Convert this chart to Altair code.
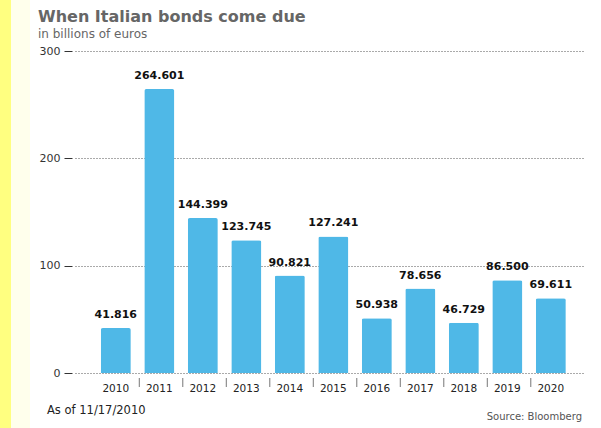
import altair as alt
import pandas as pd

# Italian bond redemptions by year, billions of euros
years = ["2010", "2011", "2012", "2013", "2014", "2015",
         "2016", "2017", "2018", "2019", "2020"]
amounts = [41.816, 264.601, 144.399, 123.745, 90.821, 127.241,
           50.938, 78.656, 46.729, 86.500, 69.611]
y_ticks = [0, 100, 200, 300]

W, H = 508, 322
BAR = "#4FB8E7"
FONT = "DejaVu Sans"

df = pd.DataFrame({"year": years, "amount": amounts})
df["label"] = [f"{v:.3f}" for v in amounts]

x_enc = alt.X(
    "year:N",
    sort=years,
    scale=alt.Scale(paddingInner=0.31, paddingOuter=0.494, align=0.6),
    axis=alt.Axis(
        title=None, ticks=False, domain=False, grid=False,
        labelAngle=0, labelFont=FONT, labelFontSize=10.5,
        labelColor="#222", labelPadding=10,
    ),
)
y_enc = alt.Y(
    "amount:Q",
    scale=alt.Scale(domain=[0, 300], nice=False),
    axis=alt.Axis(
        title=None, values=y_ticks, domain=False,
        tickSize=8, tickColor="#333", tickWidth=1, offset=3,
        labelPadding=4, labelFont=FONT, labelFontSize=11,
        labelColor="#333",
        grid=True, gridColor="#555", gridDash=[1, 2], gridWidth=1,
    ),
)

base = alt.Chart(df)

bars = base.mark_bar(
    color=BAR, cornerRadiusTopLeft=2, cornerRadiusTopRight=2
).encode(x=x_enc, y=y_enc)

values = base.mark_text(
    font=FONT, fontWeight="bold", fontSize=11, color="#111",
    baseline="alphabetic", dy=-10,
).encode(x=alt.X("year:N", sort=years), y="amount:Q", text="label:N")

# short separators between the year labels
seps = alt.Chart(df[df["year"] != years[0]]).mark_rule(
    color="#777", strokeWidth=1, xOffset=-5
).encode(
    x=alt.X("year:N", sort=years, bandPosition=0),
    y=alt.value(H + 5),
    y2=alt.value(H + 14),
)

# yellow edge band on the left of the page
stripe = alt.Chart(pd.DataFrame({"k": [0]})).mark_rect(color="#FFFF80").encode(
    x=alt.value(-75), x2=alt.value(-64), y=alt.value(-51), y2=alt.value(H + 55)
)
stripe_soft = alt.Chart(pd.DataFrame({"k": [0]})).mark_rect(color="#FFFFEC").encode(
    x=alt.value(-64), x2=alt.value(-45), y=alt.value(-51), y2=alt.value(H + 55)
)

title = alt.Chart(pd.DataFrame({"t": ["When Italian bonds come due"]})).mark_text(
    font=FONT, fontSize=16, fontWeight="bold", color="#666",
    align="left", baseline="alphabetic"
).encode(text="t:N", x=alt.value(-37), y=alt.value(-29))

subtitle = alt.Chart(pd.DataFrame({"t": ["in billions of euros"]})).mark_text(
    font=FONT, fontSize=12, color="#666", align="left", baseline="alphabetic"
).encode(text="t:N", x=alt.value(-37), y=alt.value(-13))

as_of = alt.Chart(pd.DataFrame({"t": ["As of 11/17/2010"]})).mark_text(
    font=FONT, fontSize=11.5, color="#222", align="left", baseline="middle"
).encode(text="t:N", x=alt.value(-28), y=alt.value(H + 38))

source = alt.Chart(pd.DataFrame({"t": ["Source: Bloomberg"]})).mark_text(
    font=FONT, fontSize=10, color="#555", align="right", baseline="middle"
).encode(text="t:N", x=alt.value(W - 1), y=alt.value(H + 44))

chart = alt.layer(
    stripe, stripe_soft, bars, values, seps, title, subtitle, as_of, source
).properties(
    width=W,
    height=H,
    autosize=alt.AutoSizeParams(type="none"),
    padding={"left": 75, "top": 51, "right": 18, "bottom": 55},
    background="#FFFFFF",
).configure_view(stroke=None)

chart.save("out.html", embed_options={"renderer": "svg", "actions": False})
